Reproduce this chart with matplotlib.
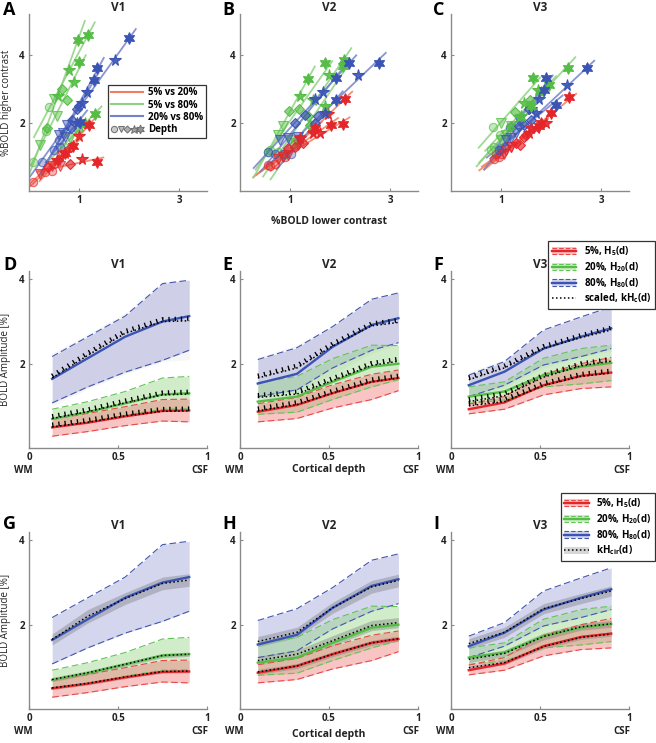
import matplotlib
matplotlib.use("Agg")
import matplotlib.pyplot as plt
import numpy as np
import matplotlib.transforms as mtransforms
from matplotlib.colors import to_rgba
from matplotlib.legend_handler import HandlerBase, HandlerTuple
from matplotlib.lines import Line2D
from matplotlib.patches import Rectangle

# ======================================
# Data: top row, %BOLD lower vs higher contrast
# rows = subjects, columns = depth (WM -> CSF)
# ======================================
v1_r_x = [[0.07, 0.22, 0.38, 0.55, 0.72], [0.32, 0.45, 0.58, 0.72, 0.88],
          [0.45, 0.62, 0.82, 1.05, 1.35], [0.50, 0.66, 0.83, 1.00, 1.19]]
v1_r_y = [[0.27, 0.50, 0.70, 0.92, 1.12], [0.55, 0.74, 0.90, 1.12, 1.33],
          [0.60, 0.72, 0.80, 0.95, 0.86], [0.80, 1.02, 1.30, 1.62, 1.94]]
v1_g_x = [[0.08, 0.22, 0.35, 0.58, 0.97], [0.39, 0.50, 0.65, 0.80, 1.17],
          [0.33, 0.55, 0.75, 0.90, 0.99], [0.69, 0.82, 0.98, 1.12, 1.31]]
v1_g_y = [[0.84, 1.35, 1.84, 2.80, 4.44], [2.46, 2.70, 3.00, 3.55, 4.59],
          [1.75, 2.20, 2.68, 3.20, 3.80], [1.30, 1.55, 1.80, 2.00, 2.25]]
v1_b_x = [[0.25, 0.60, 1.00, 1.72, 1.99], [0.60, 0.75, 0.95, 1.15, 1.35],
          [0.50, 0.68, 0.85, 1.05, 1.30], [0.62, 0.72, 0.84, 0.95, 1.02]]
v1_b_y = [[0.84, 1.65, 2.50, 3.85, 4.49], [1.50, 1.95, 2.40, 2.90, 3.60],
          [1.20, 1.70, 2.10, 2.60, 3.26], [1.30, 1.60, 1.85, 2.00, 2.04]]

v2_r_x = [[0.55, 0.75, 0.95, 1.20, 1.50], [0.60, 0.85, 1.10, 1.45, 1.82],
          [0.70, 0.95, 1.25, 1.60, 2.05], [0.90, 1.15, 1.45, 1.75, 2.10]]
v2_r_y = [[0.75, 0.95, 1.25, 1.55, 1.85], [0.72, 1.00, 1.30, 1.70, 1.94],
          [0.80, 1.05, 1.40, 1.70, 1.98], [1.00, 1.35, 1.80, 2.25, 2.70]]
v2_g_x = [[0.56, 0.75, 0.97, 1.20, 1.35], [0.60, 0.85, 1.17, 1.45, 1.70],
          [0.75, 1.00, 1.35, 1.78, 2.08], [0.90, 1.10, 1.40, 1.70, 2.05]]
v2_g_y = [[1.16, 1.65, 2.36, 2.80, 3.30], [1.20, 1.90, 2.40, 2.68, 3.75],
          [1.15, 1.50, 2.20, 3.41, 3.85], [1.10, 1.40, 1.95, 2.50, 3.66]]
v2_b_x = [[0.56, 0.80, 1.10, 1.50, 2.18], [0.85, 1.15, 1.55, 2.36, 2.77],
          [0.70, 0.95, 1.30, 1.65, 1.91], [1.02, 1.20, 1.50, 1.70, 1.91]]
v2_b_y = [[1.16, 1.50, 2.00, 2.70, 3.75], [1.10, 1.60, 2.20, 3.41, 3.75],
          [1.10, 1.55, 2.24, 2.90, 3.31], [1.10, 1.50, 2.00, 2.30, 2.68]]

v3_r_x = [[0.90, 1.10, 1.37, 1.60, 1.80], [0.95, 1.20, 1.50, 1.89, 2.36],
          [0.85, 1.05, 1.30, 1.55, 1.75], [1.00, 1.20, 1.45, 1.70, 2.00]]
v3_r_y = [[1.10, 1.20, 1.35, 1.84, 2.00], [1.00, 1.30, 1.65, 1.99, 2.77],
          [0.95, 1.10, 1.40, 1.70, 1.90], [1.10, 1.30, 1.60, 1.85, 2.30]]
v3_g_x = [[0.84, 1.00, 1.27, 1.45, 1.64], [0.85, 1.10, 1.40, 1.73, 2.34],
          [0.97, 1.20, 1.58, 1.80, 1.96], [0.80, 1.00, 1.20, 1.40, 1.60]]
v3_g_y = [[1.89, 2.00, 2.33, 2.60, 3.33], [1.30, 1.65, 2.10, 2.97, 3.60],
          [1.65, 1.90, 2.68, 2.90, 3.12], [1.20, 1.50, 1.90, 2.20, 2.50]]
v3_b_x = [[1.07, 1.30, 1.60, 2.32, 2.72], [1.17, 1.35, 1.55, 1.75, 1.89],
          [1.00, 1.20, 1.45, 1.70, 2.09], [0.95, 1.10, 1.35, 1.60, 1.86]]
v3_b_y = [[1.30, 1.70, 2.10, 3.12, 3.60], [1.89, 2.10, 2.40, 2.70, 3.33],
          [1.25, 1.55, 1.95, 2.30, 2.53], [1.20, 1.50, 1.90, 2.40, 2.97]]

# ======================================
# Data: depth profiles (rows = 5%, 20%, 80%)
# ======================================
areas = ["V1", "V2", "V3"]
depth_v1 = [0.13, 0.33, 0.54, 0.75, 0.90]
depth_v2 = [0.10, 0.32, 0.52, 0.74, 0.89]
depth_v3 = [0.10, 0.30, 0.52, 0.73, 0.90]

v1_mean = [[0.49, 0.60, 0.75, 0.88, 0.89], [0.69, 0.85, 1.06, 1.27, 1.30], [1.64, 2.13, 2.64, 3.00, 3.13]]
v1_lo = [[0.28, 0.39, 0.53, 0.64, 0.62], [0.48, 0.60, 0.78, 0.92, 0.93], [1.07, 1.45, 1.80, 2.08, 2.32]]
v1_hi = [[0.68, 0.82, 0.98, 1.15, 1.16], [0.92, 1.10, 1.34, 1.66, 1.70], [2.17, 2.64, 3.13, 3.90, 3.98]]

v2_mean = [[0.86, 1.02, 1.30, 1.57, 1.66], [1.10, 1.22, 1.57, 1.93, 2.00], [1.53, 1.76, 2.40, 2.92, 3.08]]
v2_lo = [[0.62, 0.70, 0.95, 1.15, 1.36], [0.80, 0.85, 1.15, 1.45, 1.62], [1.22, 1.38, 1.90, 2.32, 2.50]]
v2_hi = [[1.05, 1.20, 1.50, 1.75, 1.85], [1.55, 1.70, 2.12, 2.44, 2.43], [2.10, 2.38, 2.88, 3.53, 3.68]]

v3_mean = [[0.92, 1.08, 1.49, 1.71, 1.79], [1.22, 1.34, 1.73, 1.93, 2.02], [1.49, 1.81, 2.36, 2.64, 2.84]]
v3_lo = [[0.81, 0.92, 1.26, 1.41, 1.45], [1.06, 1.14, 1.45, 1.52, 1.60], [1.22, 1.49, 1.97, 2.17, 2.36]]
v3_hi = [[1.04, 1.22, 1.75, 2.00, 2.15], [1.45, 1.57, 2.13, 2.36, 2.44], [1.73, 2.05, 2.80, 3.11, 3.35]]

# scaled prediction kHc(d) (middle row) and its band for 80%
v1_kh = [[0.50, 0.61, 0.76, 0.87, 0.88], [0.70, 0.86, 1.07, 1.26, 1.28], [1.66, 2.20, 2.72, 3.00, 3.02]]
v2_kh = [[0.88, 1.03, 1.30, 1.57, 1.66], [1.20, 1.28, 1.60, 1.96, 2.06], [1.66, 1.90, 2.42, 2.90, 2.98]]
v3_kh = [[1.00, 1.10, 1.48, 1.70, 1.78], [1.10, 1.24, 1.68, 1.95, 2.06], [1.62, 1.90, 2.36, 2.62, 2.80]]
v1_kh_lo = [1.00, 1.40, 1.75, 2.05, 2.10]
v1_kh_hi = [2.25, 2.70, 3.20, 3.95, 4.00]
v2_kh_lo = [1.20, 1.35, 1.75, 2.25, 2.45]
v2_kh_hi = [2.15, 2.45, 2.90, 3.55, 3.70]
v3_kh_lo = [1.20, 1.45, 1.90, 2.15, 2.30]
v3_kh_hi = [1.80, 2.10, 2.80, 3.10, 3.35]

# circuit prediction kHcir(d) (bottom row) and its spread
v1_cir = [[0.50, 0.61, 0.76, 0.89, 0.90], [0.70, 0.86, 1.06, 1.27, 1.30], [1.65, 2.20, 2.62, 2.98, 3.06]]
v2_cir = [[0.88, 1.02, 1.30, 1.57, 1.67], [1.15, 1.30, 1.62, 1.98, 2.05], [1.60, 1.82, 2.40, 2.90, 3.05]]
v3_cir = [[0.98, 1.10, 1.48, 1.70, 1.78], [1.18, 1.32, 1.72, 1.95, 2.02], [1.55, 1.82, 2.38, 2.62, 2.80]]
v1_cir_sd = [[0.04, 0.04, 0.04, 0.04, 0.04], [0.05, 0.05, 0.05, 0.05, 0.05], [0.13, 0.16, 0.14, 0.15, 0.15]]
v2_cir_sd = [[0.06, 0.06, 0.06, 0.06, 0.06], [0.10, 0.10, 0.12, 0.12, 0.12], [0.12, 0.12, 0.13, 0.15, 0.15]]
v3_cir_sd = [[0.05, 0.05, 0.05, 0.05, 0.05], [0.08, 0.08, 0.08, 0.08, 0.08], [0.12, 0.12, 0.12, 0.12, 0.12]]

# ======================================
# Style
# ======================================
plt.rcParams.update({
    "font.family": ["Open Sans", "DejaVu Sans"],
    "font.weight": "bold",
    "font.size": 7,
    "mathtext.default": "regular",
})

W, H = 656, 743
red, green, blue = "#e4262b", "#55bd45", "#3a54b4"
fit_cols = ["#f27c5c", "#8fd281", "#7383cb"]
pt_cols = [red, green, blue]
fill_cols = ["#f07c7c", "#8fd47f", "#8a8fd0"]
fill_alpha = [0.45, 0.42, 0.36]
dash_cols = ["#e84848", "#62c456", "#4356b0"]
spine_col = "#8a8a8a"
text_col = "#222222"

markers = ["o", "v", "D", "*", (6, 1, 0)]
msizes = [6.0, 6.5, 4.8, 8.5, 8.5]
malpha = [0.35, 0.45, 0.65, 0.9, 1.0]

fig = plt.figure(figsize=(W / 100, H / 100), dpi=100, facecolor="white")


def axes_at(left, top, w=178, h=177):
    return fig.add_axes([left / W, 1 - (top + h) / H, w / W, h / H])


def style_axes(ax):
    for s in ["top", "right"]:
        ax.spines[s].set_visible(False)
    for s in ["left", "bottom"]:
        ax.spines[s].set_color(spine_col)
        ax.spines[s].set_linewidth(1.0)
    ax.tick_params(direction="in", length=2.5, color=spine_col, labelcolor=text_col,
                   labelsize=7, pad=3)


lefts = [29, 240, 451]
letters = [["A", "B", "C"], ["D", "E", "F"], ["G", "H", "I"]]
letter_x = [3, 222, 433]
letter_y = [1, 256, 515]

# ======================================
# Top row: scatter
# ======================================
top_data = [
    [(v1_r_x, v1_r_y), (v1_g_x, v1_g_y), (v1_b_x, v1_b_y)],
    [(v2_r_x, v2_r_y), (v2_g_x, v2_g_y), (v2_b_x, v2_b_y)],
    [(v3_r_x, v3_r_y), (v3_g_x, v3_g_y), (v3_b_x, v3_b_y)],
]

top_axes = []
for i, area in enumerate(areas):
    ax = axes_at(lefts[i], 14)
    top_axes.append(ax)
    style_axes(ax)
    for c, (xs, ys) in enumerate(top_data[i]):
        xs = np.array(xs)
        ys = np.array(ys)
        # fitted line per subject
        for s in range(xs.shape[0]):
            k, b = np.polyfit(xs[s], ys[s], 1)
            x0 = max(0.0, xs[s].min() - 0.3)
            x1 = xs[s].max() + 0.15
            ax.plot([x0, x1], [k * x0 + b, k * x1 + b], color=fit_cols[c],
                    lw=1.3, alpha=0.85, zorder=1, solid_capstyle="butt")
        for d in range(5):
            ax.plot(xs[:, d], ys[:, d], ls="none", marker=markers[d], ms=msizes[d],
                    mfc=to_rgba(pt_cols[c], malpha[d]),
                    mec=to_rgba(pt_cols[c], min(1.0, malpha[d] + 0.3)),
                    mew=0.8, zorder=2 + d)
    ax.set_xlim(0, 3.55)
    ax.set_ylim(0, 5.2)
    ax.set_xticks([1, 3])
    ax.set_yticks([2, 4])
    ax.set_title(area, fontsize=8.5, fontweight="bold", pad=2, color=text_col)

top_axes[0].set_ylabel("%BOLD higher contrast", fontsize=7, color=text_col)
top_axes[0].yaxis.set_label_coords(-0.098, 0.5)
fig.text(329 / W, 1 - 222 / H, "%BOLD lower contrast", ha="center", va="center",
         fontsize=7.5, color=text_col)

# legend in A
gray_mk = "#8c8c8c"
pair_handles = [Line2D([0], [0], color=fit_cols[c], lw=1.5) for c in range(3)]
depth_handle = tuple(
    Line2D([0], [0], ls="none", marker=markers[d], ms=msizes[d] * 0.75,
           mfc=to_rgba(gray_mk, 0.45 + 0.12 * d), mec="#6e6e6e", mew=0.7)
    for d in range(5)
)
leg_a = top_axes[0].legend(
    pair_handles + [depth_handle],
    ["5% vs 20%", "5% vs 80%", "20% vs 80%", "Depth"],
    handler_map={tuple: HandlerTuple(ndivide=None, pad=0.0)},
    loc="lower right", bbox_to_anchor=(0.995, 0.3), fontsize=7,
    frameon=True, fancybox=False, edgecolor="#333333", framealpha=1,
    borderpad=0.3, labelspacing=0.12, handlelength=3.3, handletextpad=0.5,
    borderaxespad=0.0,
)
leg_a.get_frame().set_linewidth(0.9)

# ======================================
# Middle and bottom rows: depth profiles
# ======================================
depths = [depth_v1, depth_v2, depth_v3]
means = [v1_mean, v2_mean, v3_mean]
los = [v1_lo, v2_lo, v3_lo]
his = [v1_hi, v2_hi, v3_hi]
khs = [v1_kh, v2_kh, v3_kh]
kh_los = [v1_kh_lo, v2_kh_lo, v3_kh_lo]
kh_his = [v1_kh_hi, v2_kh_hi, v3_kh_hi]
cirs = [v1_cir, v2_cir, v3_cir]
cir_sds = [v1_cir_sd, v2_cir_sd, v3_cir_sd]


def draw_profile(ax, i, bottom_row):
    x = np.array(depths[i])
    if not bottom_row:
        ax.fill_between(x, kh_los[i], kh_his[i], color="#c4c4c4", alpha=0.15, lw=0, zorder=0)
    for c in [2, 1, 0]:
        ax.fill_between(x, los[i][c], his[i][c], color=fill_cols[c], alpha=fill_alpha[c],
                        lw=0, zorder=1)
    if bottom_row:
        for c in [2, 1, 0]:
            kc = np.array(cirs[i][c])
            sd = np.array(cir_sds[i][c])
            ax.fill_between(x, kc - sd, kc + sd, color="#6f6f6f", alpha=0.35, lw=0, zorder=2)
    for c in [2, 1, 0]:
        for band in (los[i][c], his[i][c]):
            ax.plot(x, band, color=dash_cols[c], lw=0.8, ls=(0, (6, 3)), zorder=3)
        ax.plot(x, means[i][c], color=pt_cols[c], lw=1.7, zorder=4)
    up = mtransforms.offset_copy(ax.transData, fig=fig, x=0, y=1.6, units="points")
    pred = cirs[i] if bottom_row else khs[i]
    for c in range(3):
        ax.plot(x, pred[c], color="black", lw=1.1, ls=(0, (1, 1.6)), zorder=5)
        if not bottom_row:
            ax.plot(x, pred[c], color="black", lw=3.2, ls=(0, (0.3, 1.1)), zorder=5,
                    transform=up, dash_capstyle="butt")
    ax.set_xlim(0, 1)
    ax.set_ylim(0, 4.2)
    ax.set_xticks([0, 0.5, 1])
    ax.set_xticklabels(["0", "0.5", "1"])
    ax.set_yticks([2, 4])
    ax.set_title(areas[i], fontsize=8.5, fontweight="bold", pad=1, color=text_col)
    ax.annotate("WM", xy=(0, 0), xycoords="axes fraction", xytext=(-4, -16),
                textcoords="offset points", ha="center", va="center", fontsize=7,
                color=text_col)
    ax.annotate("CSF", xy=(1, 0), xycoords="axes fraction", xytext=(1, -16),
                textcoords="offset points", ha="right", va="center", fontsize=7,
                color=text_col)


mid_axes, bot_axes = [], []
for i in range(3):
    ax = axes_at(lefts[i], 271)
    style_axes(ax)
    draw_profile(ax, i, False)
    mid_axes.append(ax)
    ax = axes_at(lefts[i], 532)
    style_axes(ax)
    draw_profile(ax, i, True)
    bot_axes.append(ax)

for ax in (mid_axes[0], bot_axes[0]):
    ax.set_ylabel("BOLD Amplitude [%]", fontsize=7, color=text_col)
    ax.yaxis.set_label_coords(-0.1, 0.5)

fig.text(329 / W, 1 - 470 / H, "Cortical depth", ha="center", va="center",
         fontsize=7.5, color=text_col)
fig.text(329 / W, 1 - 734 / H, "Cortical depth", ha="center", va="center",
         fontsize=7.5, color=text_col)


# ======================================
# Legends for the profile rows
# ======================================
class BandHandler(HandlerBase):
    def __init__(self, line_col, dash_col, fill_col, alpha, line_ls="-", line_lw=1.7, dashed=True):
        super().__init__()
        self.line_col, self.dash_col, self.fill_col = line_col, dash_col, fill_col
        self.alpha, self.line_ls, self.line_lw, self.dashed = alpha, line_ls, line_lw, dashed

    def create_artists(self, legend, orig_handle, xdescent, ydescent, width, height,
                       fontsize, trans):
        x0, y0 = -xdescent, -ydescent
        arts = []
        if self.fill_col is not None:
            arts.append(Rectangle((x0, y0), width, height, facecolor=self.fill_col,
                                  alpha=self.alpha, lw=0, transform=trans))
        if self.dashed:
            for yy in (y0 + 0.5, y0 + height - 0.5):
                arts.append(Line2D([x0, x0 + width], [yy, yy], color=self.dash_col, lw=0.8,
                                   ls=(0, (4, 2)), transform=trans))
        arts.append(Line2D([x0, x0 + width], [y0 + height / 2] * 2, color=self.line_col,
                           lw=self.line_lw, ls=self.line_ls, transform=trans))
        return arts


def profile_legend(last_label, last_fill, top_px):
    hs = [Rectangle((0, 0), 1, 1) for _ in range(4)]
    hmap = {hs[c]: BandHandler(pt_cols[c], dash_cols[c], fill_cols[c], fill_alpha[c])
            for c in range(3)}
    hmap[hs[3]] = BandHandler("black", None, last_fill, 0.4, line_ls=(0, (1, 1.6)),
                              line_lw=1.1, dashed=False)
    leg = fig.legend(hs, ["5%, H$_5$(d)", "20%, H$_{20}$(d)", "80%, H$_{80}$(d)", last_label],
                     handler_map=hmap, loc="upper right",
                     bbox_to_anchor=(655 / W, 1 - top_px / H), fontsize=7,
                     frameon=True, fancybox=False, edgecolor="#333333", framealpha=1,
                     borderpad=0.35, labelspacing=0.2, handlelength=2.5, handleheight=0.8,
                     handletextpad=0.8, borderaxespad=0.0)
    leg.get_frame().set_linewidth(0.9)
    return leg


leg_mid = profile_legend("scaled, kH$_c$(d)", None, 241)
leg_bot = profile_legend("kH$_{cir}$(d)", "#9a9a9a", 493)

# panel letters
for r in range(3):
    for c in range(3):
        fig.text(letter_x[c] / W, 1 - letter_y[r] / H, letters[r][c], fontsize=13,
                 fontweight="bold", va="top", ha="left", color="black")

fig.savefig("out.png", dpi=100, facecolor="white")
